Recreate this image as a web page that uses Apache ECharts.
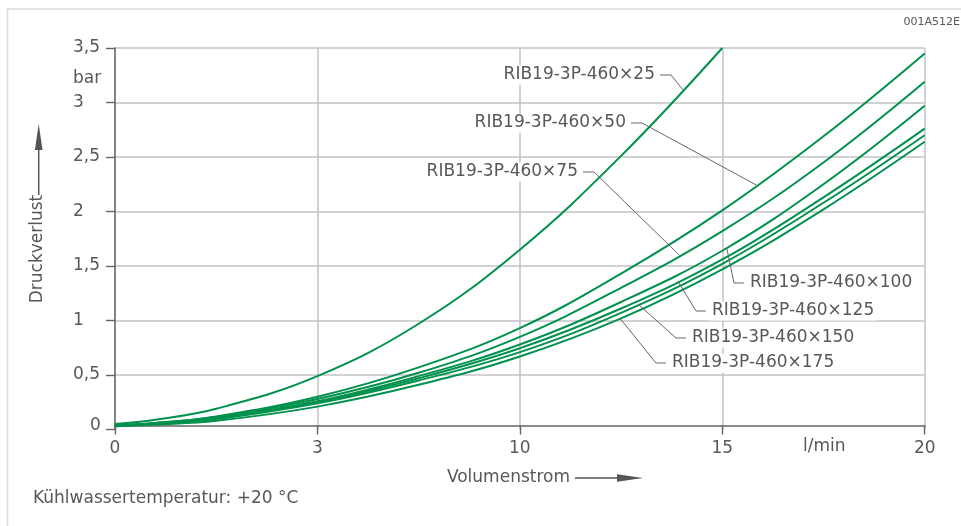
<!DOCTYPE html>
<html>
<head>
<meta charset="utf-8">
<script src="https://cdn.jsdelivr.net/npm/echarts@6/dist/echarts.min.js"></script>
<style>
  html, body { margin: 0; padding: 0; background: #fff; }
  #chart { width: 961px; height: 526px; }
</style>
</head>
<body>
<div id="chart"></div>
<script>
// Flow rate samples (l/min) shared by all curves
const flow = [0, 1, 2.5, 5, 7.5, 10, 12.5, 15, 17.5, 20];

// Pressure drop (bar) per cooler size
const drop25  = [0.05, 0.09, 0.19, 0.49, 0.97, 1.65, 2.51, 3.50, null, null];
const drop50  = [0.04, 0.06, 0.12, 0.30, 0.57, 0.93, 1.43, 2.01, 2.69, 3.45];
const drop75  = [0.04, 0.06, 0.115, 0.28, 0.52, 0.85, 1.30, 1.82, 2.45, 3.19];
const drop100 = [0.035, 0.055, 0.11, 0.26, 0.49, 0.78, 1.17, 1.64, 2.25, 2.97];
const drop125 = [0.035, 0.05, 0.10, 0.25, 0.47, 0.745, 1.11, 1.56, 2.13, 2.76];
const drop150 = [0.03, 0.05, 0.095, 0.24, 0.45, 0.71, 1.07, 1.52, 2.08, 2.70];
const drop175 = [0.03, 0.045, 0.08, 0.21, 0.41, 0.67, 1.02, 1.47, 2.02, 2.64];

const seriesNames = [
  'RIB19-3P-460×25', 'RIB19-3P-460×50', 'RIB19-3P-460×75', 'RIB19-3P-460×100',
  'RIB19-3P-460×125', 'RIB19-3P-460×150', 'RIB19-3P-460×175'
];
const seriesValues = [drop25, drop50, drop75, drop100, drop125, drop150, drop175];

// Axis tick labels
const xTickLabels = ['0', '3', '10', '15', '20'];
const yTickLabels = ['0', '0,5', '1', '1,5', '2', '2,5', '3', '3,5'];

const FONT = '"DejaVu Sans", "Open Sans", sans-serif';
const TEXT = '#585858';
const GREEN = '#00914d';

// Callout layout: text anchor, side of the dash, and the flow value where the leader meets the curve
const callouts = [
  { x: 657, y: 75,  side: 'right', atFlow: 14.03 },
  { x: 628, y: 123, side: 'right', atFlow: 15.85 },
  { x: 580, y: 172, side: 'right', atFlow: 13.94 },
  { x: 748, y: 283, side: 'left',  atFlow: 15.11 },
  { x: 710, y: 311, side: 'left',  atFlow: 13.9 },
  { x: 690, y: 338, side: 'left',  atFlow: 12.93 },
  { x: 670, y: 363, side: 'left',  atFlow: 12.48 }
];

function valueAt(values, v) {
  for (let i = 0; i < flow.length - 1; i++) {
    if (v >= flow[i] && v <= flow[i + 1] && values[i + 1] != null) {
      const t = (v - flow[i]) / (flow[i + 1] - flow[i]);
      return values[i] + t * (values[i + 1] - values[i]);
    }
  }
  return null;
}

const chart = echarts.init(document.getElementById('chart'), null, { renderer: 'canvas' });

const option = {
  animation: false,
  backgroundColor: '#fff',
  textStyle: { fontFamily: FONT },
  grid: { left: 115, right: 36.3, top: 48, bottom: 96.5, containLabel: false },
  xAxis: {
    type: 'value',
    min: 0, max: 20, interval: 5,
    offset: -4,
    axisLine: { onZero: false, lineStyle: { color: '#666', width: 1.6 } },
    axisTick: { show: true, length: 9, lineStyle: { color: '#666', width: 1.4 } },
    axisLabel: {
      margin: 14, color: TEXT, fontSize: 17, fontFamily: FONT, lineHeight: 18,
      formatter: v => xTickLabels[Math.round(v / 5)]
    },
    splitLine: { show: true, showMinLine: false, lineStyle: { color: '#c3c3c6', width: 1.5 } }
  },
  yAxis: {
    type: 'value',
    min: 0, max: 3.5, interval: 0.5,
    axisLine: { show: true, lineStyle: { color: '#666', width: 1.6 } },
    axisTick: { show: true, length: 9, lineStyle: { color: '#666', width: 1.4 } },
    axisLabel: {
      margin: 42, align: 'left', color: TEXT, fontSize: 17, fontFamily: FONT,
      formatter: v => {
        const i = Math.round(v / 0.5);
        return i === 0 ? '{z|' + yTickLabels[0] + '}' : yTickLabels[i];
      },
      rich: { z: { padding: [0, 0, 7, 17], color: TEXT, fontSize: 17, fontFamily: FONT } }
    },
    splitLine: { show: true, showMinLine: false, lineStyle: { color: '#c3c3c6', width: 1.5 } }
  },
  series: seriesValues.map((vals, k) => ({
    name: seriesNames[k],
    type: 'line',
    data: flow.map((v, i) => [v, vals[i]]).filter(p => p[1] != null),
    showSymbol: false,
    smooth: 0.4,
    lineStyle: { color: GREEN, width: 2 },
    z: 3
  }))
};
chart.setOption(option);

// Annotations: frame, units, axis titles with arrows, footnote, drawing number, callouts
const g = [];
g.push({ type: 'rect', shape: { x: 7.5, y: 9, width: 1000, height: 600 },
  style: { fill: null, stroke: '#dcdcdc', lineWidth: 1.6 }, z: 0, silent: true });
g.push({ type: 'text', x: 960, y: 22, style: { text: '001A512E', fill: TEXT, font: '11px ' + FONT,
  textAlign: 'right', textVerticalAlign: 'middle' }, z: 10 });
g.push({ type: 'text', x: 73, y: 79, style: { text: 'bar', fill: TEXT, font: '17px ' + FONT,
  textAlign: 'left', textVerticalAlign: 'middle' }, z: 10 });
g.push({ type: 'text', x: 803, y: 447, style: { text: 'l/min', fill: TEXT, font: '17px ' + FONT,
  textAlign: 'left', textVerticalAlign: 'middle' }, z: 10 });
g.push({ type: 'text', x: 33, y: 499, style: { text: 'Kühlwassertemperatur: +20 °C', fill: TEXT,
  font: '17px ' + FONT, textAlign: 'left', textVerticalAlign: 'middle' }, z: 10 });

// Horizontal axis title with arrow
g.push({ type: 'text', x: 570, y: 478, style: { text: 'Volumenstrom', fill: TEXT, font: '17px ' + FONT,
  textAlign: 'right', textVerticalAlign: 'middle' }, z: 10 });
g.push({ type: 'line', shape: { x1: 575, y1: 478, x2: 622, y2: 478 },
  style: { stroke: '#555', lineWidth: 1.5 }, z: 10 });
g.push({ type: 'polygon', shape: { points: [[617, 474.2], [643, 478], [617, 481.8]] },
  style: { fill: '#555' }, z: 10 });

// Vertical axis title with arrow
g.push({ type: 'text', x: 38, y: 249, rotation: Math.PI / 2,
  style: { text: 'Druckverlust', fill: TEXT, font: '17px ' + FONT,
    textAlign: 'center', textVerticalAlign: 'middle' }, z: 10 });
g.push({ type: 'line', shape: { x1: 38.7, y1: 195, x2: 38.7, y2: 146 },
  style: { stroke: '#555', lineWidth: 1.5 }, z: 10 });
g.push({ type: 'polygon', shape: { points: [[34.9, 150], [38.7, 124], [42.5, 150]] },
  style: { fill: '#555' }, z: 10 });

// Curve callouts with leader lines ending on the curves
callouts.forEach((c, k) => {
  const p = valueAt(seriesValues[k], c.atFlow);
  const pt = chart.convertToPixel({ gridIndex: 0 }, [c.atFlow, p]);
  const right = c.side === 'right';
  const d0 = right ? c.x + 3 : c.x - 4;
  const d1 = right ? c.x + 14 : c.x - 14;
  g.push({ type: 'text', x: c.x, y: c.y, style: {
    text: seriesNames[k], fill: TEXT, font: '17px ' + FONT,
    textAlign: right ? 'right' : 'left', textVerticalAlign: 'middle',
    backgroundColor: '#fff', padding: [1, 2, 1, 2] }, z: 20 });
  g.push({ type: 'polyline', shape: { points: [[d0, c.y], [d1, c.y], pt] },
    style: { stroke: '#666', lineWidth: 1, fill: null }, z: 19 });
});

chart.setOption({ graphic: { elements: g } });
</script>
</body>
</html>
